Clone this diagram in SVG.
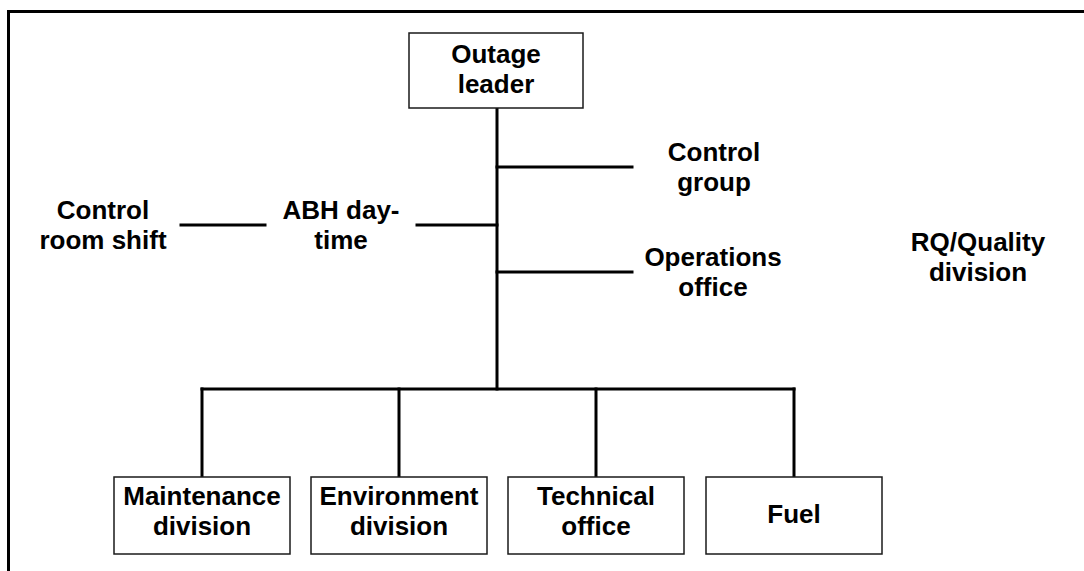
<svg xmlns="http://www.w3.org/2000/svg" width="1084" height="571" viewBox="0 0 1084 571">
  <style>
    .frame { stroke: #000; stroke-width: 3; fill: none; }
    .box { fill: #fff; stroke: #1a1a1a; stroke-width: 1.5; }
    .wire { stroke: #000; stroke-width: 3; fill: none; stroke-linecap: square; }
    .lbl { font-family: "Liberation Sans", "DejaVu Sans", sans-serif; font-weight: bold; font-size: 26px; fill: #000; text-anchor: middle; }
  </style>
  <rect width="1084" height="571" fill="#fff"/>

  <!-- page frame (top and left edges) -->
  <g id="frame">
    <line class="frame" x1="7" y1="11.5" x2="1084" y2="11.5"/>
    <line class="frame" x1="8.5" y1="10" x2="8.5" y2="571"/>
  </g>

  <!-- connectors -->
  <g id="connectors">
    <line class="wire" x1="497" y1="108" x2="497" y2="389"/>
    <line class="wire" x1="497" y1="167" x2="632" y2="167"/>
    <line class="wire" x1="497" y1="272" x2="632" y2="272"/>
    <line class="wire" x1="417" y1="225" x2="497" y2="225"/>
    <line class="wire" x1="181" y1="225" x2="265" y2="225"/>
    <line class="wire" x1="202" y1="389" x2="794" y2="389"/>
    <line class="wire" x1="202" y1="389" x2="202" y2="477"/>
    <line class="wire" x1="399" y1="389" x2="399" y2="477"/>
    <line class="wire" x1="596" y1="389" x2="596" y2="477"/>
    <line class="wire" x1="794" y1="389" x2="794" y2="477"/>
  </g>

  <g id="outage-leader">
    <rect class="box" x="409" y="33" width="174" height="75"/>
    <text class="lbl" x="496" y="63">Outage</text>
    <text class="lbl" x="496" y="93">leader</text>
  </g>

  <g id="control-group">
    <text class="lbl" x="714" y="161">Control</text>
    <text class="lbl" x="714" y="191">group</text>
  </g>

  <g id="operations-office">
    <text class="lbl" x="713" y="266">Operations</text>
    <text class="lbl" x="713" y="296">office</text>
  </g>

  <g id="rq-quality">
    <text class="lbl" x="978" y="251">RQ/Quality</text>
    <text class="lbl" x="978" y="281">division</text>
  </g>

  <g id="control-room-shift">
    <text class="lbl" x="103" y="219">Control</text>
    <text class="lbl" x="103" y="249">room shift</text>
  </g>

  <g id="abh-daytime">
    <text class="lbl" x="341" y="219">ABH day-</text>
    <text class="lbl" x="341" y="249">time</text>
  </g>

  <g id="maintenance">
    <rect class="box" x="114" y="477" width="176" height="77"/>
    <text class="lbl" x="202" y="505">Maintenance</text>
    <text class="lbl" x="202" y="535">division</text>
  </g>

  <g id="environment">
    <rect class="box" x="311" y="477" width="176" height="77"/>
    <text class="lbl" x="399" y="505">Environment</text>
    <text class="lbl" x="399" y="535">division</text>
  </g>

  <g id="technical-office">
    <rect class="box" x="508" y="477" width="176" height="77"/>
    <text class="lbl" x="596" y="505">Technical</text>
    <text class="lbl" x="596" y="535">office</text>
  </g>

  <g id="fuel">
    <rect class="box" x="706" y="477" width="176" height="77"/>
    <text class="lbl" x="794" y="523">Fuel</text>
  </g>
</svg>
